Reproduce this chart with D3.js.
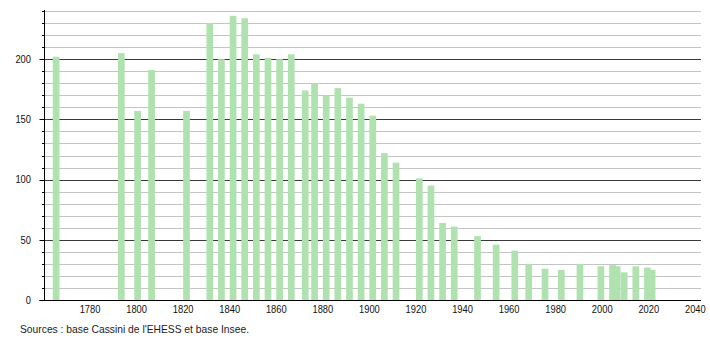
<!DOCTYPE html>
<html>
<head>
<meta charset="utf-8">
<script src="https://cdn.jsdelivr.net/npm/d3@7"></script>
<style>
  body { margin: 0; background: #fff; }
  svg { display: block; }
  text { font-family: "Liberation Sans", Arial, sans-serif; font-size: 11px; fill: #111; }
</style>
</head>
<body>
<svg id="chart" width="710" height="340"></svg>
<script>
const years = [1765, 1793, 1800, 1806, 1821, 1831, 1836, 1841, 1846, 1851, 1856, 1861, 1866,
  1872, 1876, 1881, 1886, 1891, 1896, 1901, 1906, 1911, 1921, 1926, 1931, 1936, 1946,
  1954, 1962, 1968, 1975, 1982, 1990, 1999, 2004, 2006, 2009, 2014, 2019, 2021];
const population = [202, 205, 157, 191, 157, 230, 200, 236, 234, 204, 201, 200, 204,
  174, 180, 170, 176, 168, 163, 153, 122, 114, 101, 95, 64, 61, 53,
  46, 41, 30, 26, 25, 30, 28, 29, 28, 23, 28, 27, 25];
const xTicks = [1780, 1800, 1820, 1840, 1860, 1880, 1900, 1920, 1940, 1960, 1980, 2000, 2020, 2040];
const yTicks = [0, 50, 100, 150, 200];
const source = "Sources : base Cassini de l'EHESS et base Insee.";

const data = years.map((y, i) => ({ year: y, value: population[i] }));

const svg = d3.select('#chart');

const plotLeft = 44.5;
const plotRight = 701;
const plotTop = 11;
const plotBottom = 300;
const digitW = 5.2; // the original uses a narrow face

const xScale = d3.scaleLinear()
  .domain([1760, 2042])
  .range([plotLeft, plotRight]);

const yScale = d3.scaleLinear()
  .domain([0, 240])
  .range([plotBottom, plotTop]);

// grid lines, light every 10, dark every 50
const gridVals = d3.range(10, 241, 10);
svg.append('g')
  .selectAll('line')
  .data(gridVals)
  .enter()
  .append('line')
  .attr('x1', plotLeft)
  .attr('x2', plotRight)
  .attr('y1', (d) => Math.round(yScale(d)) + 0.5)
  .attr('y2', (d) => Math.round(yScale(d)) + 0.5)
  .attr('stroke', (d) => d % 50 === 0 ? '#3a3a3a' : '#c4c4c4')
  .attr('stroke-width', 1);

// bars
const barW = 6.7;
svg.append('g')
  .selectAll('rect')
  .data(data)
  .enter()
  .append('rect')
  .attr('x', (d) => xScale(d.year) - barW / 2)
  .attr('y', (d) => yScale(d.value))
  .attr('width', barW)
  .attr('height', (d) => plotBottom - yScale(d.value))
  .attr('fill', '#b0e2b0');

// y axis ticks: long at 50s, short at 10s
svg.append('g')
  .selectAll('line')
  .data([0].concat(gridVals))
  .enter()
  .append('line')
  .attr('x1', (d) => d % 50 === 0 ? plotLeft - 5 : plotLeft - 2.5)
  .attr('x2', plotLeft)
  .attr('y1', (d) => Math.round(yScale(d)) + 0.5)
  .attr('y2', (d) => Math.round(yScale(d)) + 0.5)
  .attr('stroke', '#000');

svg.append('line')
  .attr('x1', plotLeft)
  .attr('x2', plotLeft)
  .attr('y1', plotTop - 1)
  .attr('y2', plotBottom + 0.5)
  .attr('stroke', '#000');

svg.append('line')
  .attr('x1', plotLeft - 5)
  .attr('x2', plotRight)
  .attr('y1', plotBottom + 0.5)
  .attr('y2', plotBottom + 0.5)
  .attr('stroke', '#000');

svg.append('g')
  .selectAll('text')
  .data(yTicks)
  .enter()
  .append('text')
  .attr('x', 31)
  .attr('y', (d) => yScale(d))
  .attr('dy', '0.35em')
  .attr('text-anchor', 'end')
  .attr('textLength', (d) => String(d).length * digitW)
  .attr('lengthAdjust', 'spacingAndGlyphs')
  .text((d) => d);

svg.append('g')
  .selectAll('text')
  .data(xTicks)
  .enter()
  .append('text')
  .attr('x', (d) => xScale(d) - 1)
  .attr('y', 313)
  .attr('text-anchor', 'middle')
  .attr('textLength', (d) => String(d).length * digitW)
  .attr('lengthAdjust', 'spacingAndGlyphs')
  .text((d) => d);

svg.append('text')
  .attr('x', 20)
  .attr('y', 333)
  .attr('textLength', 229)
  .attr('lengthAdjust', 'spacingAndGlyphs')
  .style('fill', '#222')
  .text(source);
</script>
</body>
</html>
